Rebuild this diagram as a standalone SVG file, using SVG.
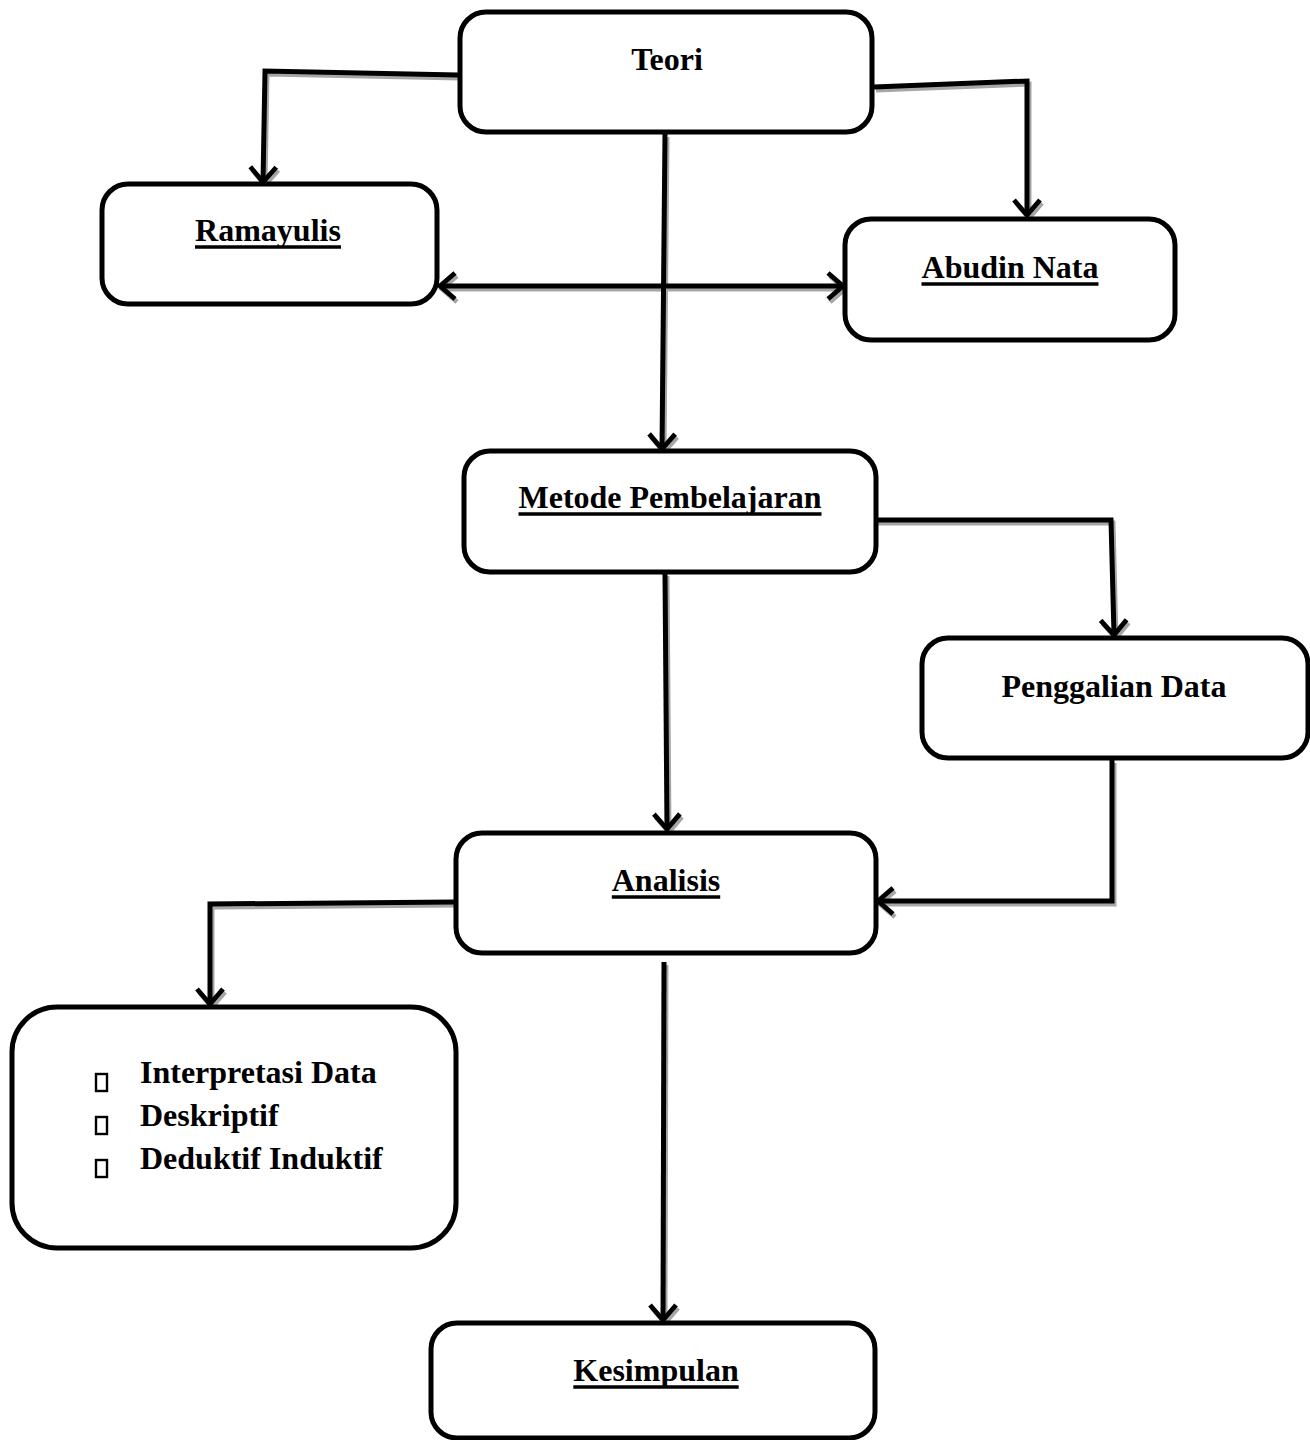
<svg xmlns="http://www.w3.org/2000/svg" width="1310" height="1440" viewBox="0 0 1310 1440">
<style>
.box{fill:#fff;stroke:#000;stroke-width:5}
.t{font-family:"Liberation Serif","Times New Roman",serif;font-weight:bold;font-size:32px;fill:#000}
.c{text-anchor:middle}
.ul{stroke:#000;stroke-width:3.5}
.ln{fill:none;stroke:#000;stroke-width:5}
.sh{fill:none;stroke:#a6a6a6;stroke-width:5}
.bul{fill:none;stroke:#000;stroke-width:2.4}
</style>
<defs>
<marker id="ah" viewBox="-3 -3 24 32" refX="16" refY="13" markerWidth="24" markerHeight="32" markerUnits="userSpaceOnUse" orient="auto-start-reverse">
<path d="M1,0 L16,13 L1,26" fill="none" stroke="#000" stroke-width="4.8"/>
</marker>
<marker id="ahs" viewBox="-3 -3 24 32" refX="16" refY="13" markerWidth="24" markerHeight="32" markerUnits="userSpaceOnUse" orient="auto-start-reverse">
<path d="M1,0 L16,13 L1,26" fill="none" stroke="#a6a6a6" stroke-width="4.8"/>
</marker>
</defs>
<g id="connectors">
<g transform="translate(2,3)">
<path class="sh" d="M458,75 L265,71 L263,182" marker-end="url(#ahs)"/>
<path class="sh" d="M874,87 L1027,81 L1027,215" marker-end="url(#ahs)"/>
<path class="sh" d="M665,134 L662,449" marker-end="url(#ahs)"/>
<path class="sh" d="M440,286 L843,286" marker-start="url(#ahs)" marker-end="url(#ahs)"/>
<path class="sh" d="M876,520 L1111,520 L1114,635" marker-end="url(#ahs)"/>
<path class="sh" d="M665,573 L667,829" marker-end="url(#ahs)"/>
<path class="sh" d="M1112,760 L1112,901 L878,901" marker-end="url(#ahs)"/>
<path class="sh" d="M454,902 L210,904 L210,1004" marker-end="url(#ahs)"/>
<path class="sh" d="M664,962 L663,1320" marker-end="url(#ahs)"/>
</g>
<path class="ln" d="M458,75 L265,71 L263,182" marker-end="url(#ah)"/>
<path class="ln" d="M874,87 L1027,81 L1027,215" marker-end="url(#ah)"/>
<path class="ln" d="M665,134 L662,449" marker-end="url(#ah)"/>
<path class="ln" d="M440,286 L843,286" marker-start="url(#ah)" marker-end="url(#ah)"/>
<path class="ln" d="M876,520 L1111,520 L1114,635" marker-end="url(#ah)"/>
<path class="ln" d="M665,573 L667,829" marker-end="url(#ah)"/>
<path class="ln" d="M1112,760 L1112,901 L878,901" marker-end="url(#ah)"/>
<path class="ln" d="M454,902 L210,904 L210,1004" marker-end="url(#ah)"/>
<path class="ln" d="M664,962 L663,1320" marker-end="url(#ah)"/>
</g>
<g id="teori">
<rect class="box" x="460" y="12" width="412" height="120" rx="26"/>
<text class="t c" x="667" y="70">Teori</text>
</g>
<g id="ramayulis">
<rect class="box" x="102" y="184" width="335" height="120" rx="26"/>
<text class="t c" x="268" y="241">Ramayulis</text>
<line class="ul" x1="195" y1="247" x2="341" y2="247"/>
</g>
<g id="abudin">
<rect class="box" x="845" y="219" width="330" height="121" rx="26"/>
<text class="t c" x="1010" y="278">Abudin Nata</text>
<line class="ul" x1="921.5" y1="284" x2="1098.5" y2="284"/>
</g>
<g id="metode">
<rect class="box" x="464" y="451" width="412" height="121" rx="26"/>
<text class="t c" x="670" y="508">Metode Pembelajaran</text>
<line class="ul" x1="518.5" y1="514" x2="821.5" y2="514"/>
</g>
<g id="penggalian">
<rect class="box" x="922" y="638" width="386" height="120" rx="26"/>
<text class="t c" x="1114" y="697">Penggalian Data</text>
</g>
<g id="analisis">
<rect class="box" x="456" y="833" width="420" height="120" rx="26"/>
<text class="t c" x="666" y="891">Analisis</text>
<line class="ul" x1="611.8" y1="897" x2="720.2" y2="897"/>
</g>
<g id="list">
<rect class="box" x="12" y="1007" width="444" height="241" rx="45"/>
<rect class="bul" x="96" y="1074" width="11" height="17"/>
<rect class="bul" x="96" y="1117" width="11" height="17"/>
<rect class="bul" x="96" y="1160" width="11" height="17"/>
<text class="t" x="140" y="1083">Interpretasi Data</text>
<text class="t" x="140" y="1126">Deskriptif</text>
<text class="t" x="140" y="1169">Deduktif Induktif</text>
</g>
<g id="kesimpulan">
<rect class="box" x="431" y="1323" width="444" height="115" rx="26"/>
<text class="t c" x="656" y="1381">Kesimpulan</text>
<line class="ul" x1="573.3" y1="1387" x2="738.7" y2="1387"/>
</g>
</svg>
